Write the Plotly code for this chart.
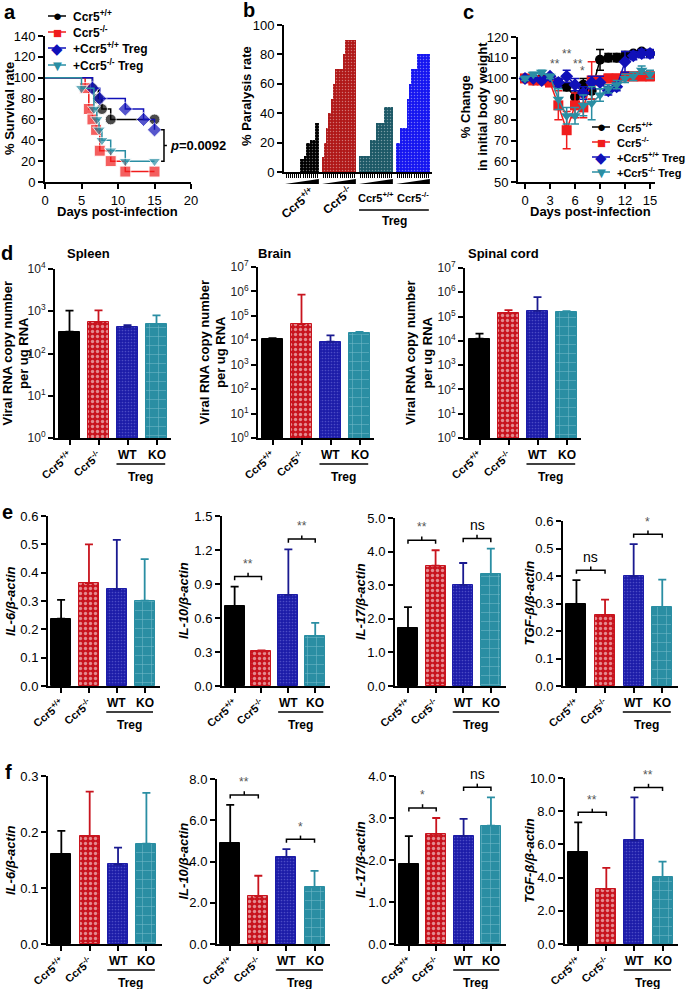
import plotly.graph_objects as go

W, H = 689, 989
FONT = "Arial, Liberation Sans, Helvetica, sans-serif"

# ---------------- DATA ----------------
# (a) survival
a_days_wt = [0, 6.5, 7.3, 7.8, 9, 15]
a_surv_wt = [100, 90, 80, 70, 60, 60]
a_days_ko = [0, 5.5, 6, 6.5, 7, 7.5, 9, 11, 15]
a_surv_ko = [100, 90, 70, 60, 50, 30, 20, 10, 10]
a_days_wttreg = [0, 6.5, 7.5, 11, 13.5, 15]
a_surv_wttreg = [100, 90, 80, 70, 60, 50]
a_days_kotreg = [0, 5, 6.7, 7.1, 7.4, 7.8, 9, 11, 15]
a_surv_kotreg = [100, 90, 70, 60, 50, 40, 30, 20, 20]
a_pvalue = "0.0092"
series_names = ["Ccr5<sup>+/+</sup>", "Ccr5<sup>-/-</sup>", "+Ccr5<sup>+/+</sup> Treg", "+Ccr5<sup>-/-</sup> Treg"]

# (b) paralysis rate, daily values per group
b_group_labels = ["Ccr5<sup>+/+</sup>", "Ccr5<sup>-/-</sup>", "Ccr5<sup>+/+</sup>", "Ccr5<sup>-/-</sup>"]
b_wt = [0, 0, 0, 0, 0, 0, 0, 9, 9, 11, 20, 20, 22, 22, 33, 33]
b_ko = [10, 20, 30, 40, 50, 60, 70, 70, 70, 70, 80, 90, 90, 90, 90, 90]
b_wt_treg = [11, 11, 11, 11, 11, 22, 22, 22, 33, 33, 33, 33, 44, 44, 44, 44]
b_ko_treg = [20, 20, 30, 30, 30, 50, 60, 70, 70, 70, 80, 80, 80, 80, 80, 80]

# (c) body weight
c_days = list(range(16))
c_wt = [100, 99, 100, 99, 98, 96, 91, 97, 94, 109, 110, 110, 111, 112, 113, 112]
c_wt_err = [1, 1, 1, 1, 2, 2, 3, 3, 4, 5, 2, 2, 2, 1, 1, 1]
c_ko = [100, 99, 99, 98, 87, 75, 87, 86, 99, 99, 100, 100, 101, 101, 101, 101]
c_ko_err = [1, 1, 1, 1, 7, 9, 6, 5, 9, 2, 2, 2, 2, 2, 2, 2]
c_wttreg = [100, 100, 99, 101, 98, 101, 97, 93, 98, 98, 94, 96, 108, 111, 112, 112]
c_wttreg_err = [1, 1, 1, 1, 2, 3, 3, 3, 3, 3, 2, 2, 5, 2, 2, 2]
c_kotreg = [100, 102, 103, 101, 90, 82, 82, 87, 88, 92, 95, 97, 100, 101, 104, 102]
c_kotreg_err = [1, 1, 1, 1, 5, 4, 4, 5, 8, 3, 2, 2, 2, 2, 2, 2]
c_sig_days = [5, 3.6, 6.3, 6.9]
c_sig_vals = [112, 107, 107, 103.5]
c_sig_text = ["**", "**", "**", "*"]

# bar categories
categories = ["Ccr5<sup>+/+</sup>", "Ccr5<sup>-/-</sup>", "WT", "KO"]

# (d) viral RNA copies
d_spleen = [330, 550, 420, 490]
d_spleen_err = [700, 500, 50, 310]
d_brain = [11500, 46000, 8700, 19400]
d_brain_err = [800, 700000, 7300, 2600]
d_spinal = [12300, 135000, 170000, 149000]
d_spinal_err = [7700, 50000, 460000, 20000]

# (e) cytokines
e_il6 = [0.238, 0.363, 0.341, 0.301]
e_il6_err = [0.066, 0.137, 0.175, 0.147]
e_il10 = [0.707, 0.305, 0.804, 0.443]
e_il10_err = [0.170, 0.010, 0.402, 0.114]
e_il17 = [1.73, 3.58, 3.01, 3.33]
e_il17_err = [0.62, 0.46, 0.65, 0.76]
e_tgf = [0.297, 0.257, 0.399, 0.286]
e_tgf_err = [0.088, 0.057, 0.117, 0.101]
e_il10_sig = ["**", "**"]
e_il17_sig = ["**", "ns"]
e_tgf_sig = ["ns", "*"]

# (f) cytokines
f_il6 = [0.161, 0.193, 0.142, 0.179]
f_il6_err = [0.041, 0.079, 0.030, 0.091]
f_il10 = [4.9, 2.31, 4.2, 2.75]
f_il10_err = [1.85, 1.0, 0.4, 0.8]
f_il17 = [1.91, 2.62, 2.57, 2.82]
f_il17_err = [0.66, 0.38, 0.41, 0.67]
f_tgf = [5.54, 3.31, 6.24, 4.02]
f_tgf_err = [1.79, 1.27, 2.59, 0.94]
f_il10_sig = ["**", "*"]
f_il17_sig = ["*", "ns"]
f_tgf_sig = ["**", "**"]

# ---------------- STYLE ----------------
BAR_COLORS = ["#000000", "#c8141e", "#1c1ca8", "#2a8ea3"]
ERR_COLORS = ["#000000", "#c8141e", "#1a1a90", "#2a8ea3"]
PATTERNS = [
    dict(shape=""),
    dict(shape=".", size=5, solidity=0.35, fgcolor="white", fillmode="overlay"),
    dict(shape=".", size=3, solidity=0.25, fgcolor="#7a7ae0", fillmode="overlay"),
    dict(shape="+", size=9, solidity=0.12, fgcolor="#b8e2ea", fillmode="overlay"),
]
LINE_COLORS = ["#000000", "#f01c1c", "#1010b8", "#2a8ea3"]
SYMBOLS = ["circle", "square", "diamond", "triangle-down"]
GLYPHS = ["\u25cf", "\u25a0", "\u25c6", "\u25bc"]


def xd(x0, x1):
    return [x0 / W, x1 / W]


def yd(top, bot):
    return [1 - bot / H, 1 - top / H]


def px(p):
    return p / W


def py(p):
    return 1 - p / H


def xn(i):
    return "x" if i == 1 else f"x{i}"


def yn(i):
    return "y" if i == 1 else f"y{i}"


def xk(i):
    return "xaxis" if i == 1 else f"xaxis{i}"


def yk(i):
    return "yaxis" if i == 1 else f"yaxis{i}"


def axis_style(**kw):
    base = dict(showline=True, linecolor="black", linewidth=2, ticks="outside", ticklen=5,
                tickwidth=1.5, tickcolor="black", showgrid=False, zeroline=False,
                tickfont=dict(size=13, color="black", family=FONT), automargin=False, fixedrange=True)
    base.update(kw)
    return base


# panel boxes: left, right, top, bottom (px)
boxes = {
    1: (45, 191, 36, 182),
    2: (284, 432, 25, 172),
    3: (518, 655, 37, 182),
    4: (55, 171, 269, 438),
    5: (258, 374, 267, 438),
    6: (465, 581, 268, 438),
    7: (48, 160, 516, 686),
    8: (222, 330, 516, 686),
    9: (395, 506, 518, 686),
    10: (563, 678, 521, 686),
    11: (48, 162, 776, 944),
    12: (217, 330, 779, 944),
    13: (396, 506, 776, 944),
    14: (565, 678, 778, 944),
}

fig = go.Figure()
layout = dict(width=W, height=H, margin=dict(l=0, r=0, t=0, b=0), autosize=False,
              paper_bgcolor="white", plot_bgcolor="white", showlegend=False,
              font=dict(family=FONT, color="black", size=12), bargap=0)
annotations = []
shapes = []


def note(x, y, text, size=12, angle=0, xanchor="center", yanchor="middle", color="black", xref="paper",
         yref="paper"):
    annotations.append(dict(x=x, y=y, xref=xref, yref=yref, text=text, showarrow=False, textangle=angle,
                            xanchor=xanchor, yanchor=yanchor, font=dict(size=size, color=color, family=FONT)))


for i, (l, r, t, b) in boxes.items():
    layout[xk(i)] = axis_style(domain=xd(l, r), anchor=yn(i))
    layout[yk(i)] = axis_style(domain=yd(t, b), anchor=xn(i))


def manual_legend(x_marker, rows_y, size=12):
    for k, yy in enumerate(rows_y):
        shapes.append(dict(type="line", xref="paper", yref="paper", x0=px(x_marker - 9), x1=px(x_marker + 9),
                           y0=py(yy), y1=py(yy), line=dict(color=LINE_COLORS[k], width=1.5)))
        note(px(x_marker), py(yy), f"<span style='color:{LINE_COLORS[k]}'>{GLYPHS[k]}</span>", size=15)
        note(px(x_marker + 14), py(yy), f"<b>{series_names[k]}</b>", size=size, xanchor="left")


# ---------------- (a) ----------------
a_sets = [(a_days_wt, a_surv_wt), (a_days_ko, a_surv_ko), (a_days_wttreg, a_surv_wttreg),
          (a_days_kotreg, a_surv_kotreg)]
for k, (xs, ys) in enumerate(a_sets):
    fig.add_trace(go.Scatter(
        x=xs, y=ys, mode="lines+markers", name=series_names[k],
        line=dict(color=LINE_COLORS[k], width=1.5, shape="hv"),
        marker=dict(symbol=SYMBOLS[k], color=LINE_COLORS[k], size=[0] + [11] * (len(xs) - 1)),
        xaxis="x", yaxis="y", cliponaxis=False))
layout["xaxis"].update(range=[0, 20], dtick=5, tick0=0)
layout["yaxis"].update(range=[0, 140], dtick=20, tick0=0)
note(px(117), py(212), "<b>Days post-infection</b>", size=13)
note(px(10), py(109), "<b>% Survival rate</b>", size=13, angle=-90)
manual_legend(57, [16, 32, 48, 65])
# p-value bracket
yb0, yb1 = a_surv_kotreg[-1], a_surv_wttreg[-1]
shapes.append(dict(type="path", xref="x", yref="y",
                   path=f"M 15.9 {yb0} L 16.3 {yb0} L 16.3 {yb1} L 15.9 {yb1} M 16.3 {(yb0+yb1)/2} L 16.7 {(yb0+yb1)/2}",
                   line=dict(color="black", width=1.5)))
note(16.8, (yb0 + yb1) / 2, f"<b><i>p</i>={a_pvalue}</b>", size=13, xanchor="left", xref="x", yref="y")

# ---------------- (b) ----------------
b_sets = [b_wt, b_ko, b_wt_treg, b_ko_treg]
b_colors = ["#000000", "#b01818", "#1c5866", "#1515f0"]
GROUP_STEP = 17.5
b_ticks = []
for g, vals in enumerate(b_sets):
    xs = [g * GROUP_STEP + k for k in range(len(vals))]
    b_ticks += xs
    fig.add_trace(go.Bar(
        x=xs, y=vals, width=1.0, xaxis="x2", yaxis="y2",
        marker=dict(color=b_colors[g], line=dict(width=0),
                    pattern=dict(shape=".", size=3, solidity=0.18, fgcolor="rgba(255,255,255,0.8)",
                                 fillmode="overlay"))))
    x0, x1 = xs[0] - 0.5, xs[-1] + 0.5
    shapes.append(dict(type="path", xref="x2", yref="paper",
                       path=f"M {x0} {py(184)} L {x1} {py(184)} L {x1} {py(179)} Z",
                       fillcolor="black", line=dict(width=0)))
layout["xaxis2"].update(range=[-1, 69], tickvals=b_ticks, showticklabels=False, ticklen=4, tickwidth=1)
layout["yaxis2"].update(range=[0, 100], dtick=20, tick0=0)
note(px(246), py(96), "<b>% Paralysis rate</b>", size=13, angle=-90)
note(px(297), py(203), f"<b>{b_group_labels[0]}</b>", size=12, angle=-40)
note(px(337), py(200), f"<b>{b_group_labels[1]}</b>", size=12, angle=-40)
note(2 * GROUP_STEP + 7.5, py(197), f"<b>{b_group_labels[2]}</b>", size=11, xref="x2")
note(3 * GROUP_STEP + 7.5, py(197), f"<b>{b_group_labels[3]}</b>", size=11, xref="x2")
shapes.append(dict(type="line", xref="x2", yref="paper", x0=2 * GROUP_STEP - 0.5, x1=3 * GROUP_STEP + 15,
                   y0=py(210), y1=py(210), line=dict(color="black", width=1.5)))
note(2.5 * GROUP_STEP + 7.5, py(221), "<b>Treg</b>", size=12, xref="x2")

# ---------------- (c) ----------------
c_sets = [(c_wt, c_wt_err), (c_ko, c_ko_err), (c_wttreg, c_wttreg_err), (c_kotreg, c_kotreg_err)]
for k, (ys, es) in enumerate(c_sets):
    fig.add_trace(go.Scatter(
        x=c_days, y=ys, mode="lines+markers", name=series_names[k],
        line=dict(color=LINE_COLORS[k], width=1.5),
        marker=dict(symbol=SYMBOLS[k], color=LINE_COLORS[k], size=10),
        error_y=dict(type="data", array=es, color=LINE_COLORS[k], thickness=1.5, width=4),
        xaxis="x3", yaxis="y3"))
for dx, dy, tx in zip(c_sig_days, c_sig_vals, c_sig_text):
    note(dx, dy, tx, size=12, color="#555555", xref="x3", yref="y3")
layout["xaxis3"].update(range=[-0.84, 15.6], tickvals=[0, 3, 6, 9, 12, 15])
layout["yaxis3"].update(range=[50, 120], dtick=10, tick0=50)
note(px(590), py(212), "<b>Days post-infection</b>", size=13)
note(px(474), py(107), "<b>% Change<br>in initial body weight</b>", size=13, angle=-90)
manual_legend(601, [127, 142, 157, 172], size=11)


# ---------------- bar panels ----------------
def bar_panel(i, means, errs, yrange, ytitle, title_x, log=False, tickfmt=None, dtick=None, sigs=None):
    l, r, t, b = boxes[i]
    xr = [-0.5, 3.5] if log else [-0.47, 3.55]
    spacing = (r - l) / (xr[1] - xr[0])
    width = (21 if log else 20) / spacing
    for k in range(4):
        fig.add_trace(go.Bar(
            x=[k], y=[means[k]], width=width, xaxis=xn(i), yaxis=yn(i),
            marker=dict(color=BAR_COLORS[k], line=dict(color=BAR_COLORS[k], width=1),
                        pattern=PATTERNS[k]),
            error_y=dict(type="data", array=[errs[k]], arrayminus=[0], symmetric=False,
                         color=ERR_COLORS[k], thickness=1.8, width=4)))
    layout[xk(i)].update(range=xr, tickvals=[0, 1, 2, 3],
                         ticktext=[f"<b>{categories[0]}</b>", f"<b>{categories[1]}</b>", "", ""],
                         tickangle=-40, tickfont=dict(size=11, family=FONT, color="black"), ticklen=5)
    ya = layout[yk(i)]
    if log:
        ya.update(type="log", range=yrange, tickvals=[10 ** p for p in range(yrange[0], yrange[1] + 1)],
                  ticktext=[f"10<sup>{p}</sup>" for p in range(yrange[0], yrange[1] + 1)],
                  tickfont=dict(size=12, family=FONT, color="#222222"))
    else:
        ya.update(range=yrange, dtick=dtick, tick0=0, tickformat=tickfmt,
                  tickfont=dict(size=13, family=FONT, color="black"))
    note(px(title_x), py((t + b) / 2), ytitle, size=13, angle=-90)
    for k in (2, 3):
        note(k, py(b + 17), f"<b>{categories[k]}</b>", size=12, xref=xn(i))
    shapes.append(dict(type="line", xref=xn(i), yref="paper", x0=1.62, x1=3.3, y0=py(b + 26), y1=py(b + 26),
                       line=dict(color="black", width=1.5)))
    note(2.45, py(b + 39), "<b>Treg</b>", size=12, xref=xn(i))
    if sigs:
        span = yrange[1] - yrange[0]
        dd = 0.022 * span
        for (k0, k1), lab in zip([(0, 1), (2, 3)], sigs):
            yb = max(means[k0] + errs[k0], means[k1] + errs[k1]) + 0.06 * span
            xm = (k0 + k1) / 2
            fig.add_trace(go.Scatter(
                x=[k0, k0, k1, k1, None, xm, xm], y=[yb - dd, yb, yb, yb - dd, None, yb, yb + dd],
                mode="lines", line=dict(color="black", width=1.5),
                hoverinfo="skip", xaxis=xn(i), yaxis=yn(i), cliponaxis=False))
            if lab == "ns":
                note(xm, yb + dd, lab, size=14, yanchor="bottom", xref=xn(i), yref=yn(i))
            else:
                note(xm, yb + dd, lab, size=12, color="#555555", yanchor="bottom", xref=xn(i), yref=yn(i))


VT = "<b>Viral RNA copy number<br>per ug RNA</b>"
bar_panel(4, d_spleen, d_spleen_err, [0, 4], VT, 15, log=True)
bar_panel(5, d_brain, d_brain_err, [0, 7], VT, 212, log=True)
bar_panel(6, d_spinal, d_spinal_err, [0, 7], VT, 419, log=True)

bar_panel(7, e_il6, e_il6_err, [0, 0.6], "<b><i>IL-6/β-actin</i></b>", 10, tickfmt=".1f", dtick=0.1)
bar_panel(8, e_il10, e_il10_err, [0, 1.5], "<b><i>IL-10/β-actin</i></b>", 183, tickfmt=".1f", dtick=0.3,
          sigs=e_il10_sig)
bar_panel(9, e_il17, e_il17_err, [0, 5], "<b><i>IL-17/β-actin</i></b>", 360, tickfmt=".1f", dtick=1,
          sigs=e_il17_sig)
bar_panel(10, e_tgf, e_tgf_err, [0, 0.6], "<b><i>TGF-β/β-actin</i></b>", 529, tickfmt=".1f", dtick=0.1,
          sigs=e_tgf_sig)

bar_panel(11, f_il6, f_il6_err, [0, 0.3], "<b><i>IL-6/β-actin</i></b>", 10, tickfmt=".1f", dtick=0.1)
bar_panel(12, f_il10, f_il10_err, [0, 8], "<b><i>IL-10/β-actin</i></b>", 183, tickfmt=".1f", dtick=2,
          sigs=f_il10_sig)
bar_panel(13, f_il17, f_il17_err, [0, 4], "<b><i>IL-17/β-actin</i></b>", 360, tickfmt=".1f", dtick=1,
          sigs=f_il17_sig)
bar_panel(14, f_tgf, f_tgf_err, [0, 10], "<b><i>TGF-β/β-actin</i></b>", 529, tickfmt=".1f", dtick=2,
          sigs=f_tgf_sig)

# d titles
for txt, xp in [("Spleen", 88), ("Brain", 274), ("Spinal cord", 503)]:
    note(px(xp), py(253), f"<b>{txt}</b>", size=13)

# panel letters
for letter, xp, yp in [("a", 10, 12), ("b", 249, 10), ("c", 468, 12), ("d", 7, 253), ("e", 7, 512),
                       ("f", 8, 772)]:
    note(px(xp), py(yp), f"<b>{letter}</b>", size=20)

layout["annotations"] = annotations
layout["shapes"] = shapes
fig.update_layout(**layout)
fig.write_html("out.html", config={"displayModeBar": False},
               post_script="document.body.style.margin='0px';document.body.style.overflow='hidden';")
